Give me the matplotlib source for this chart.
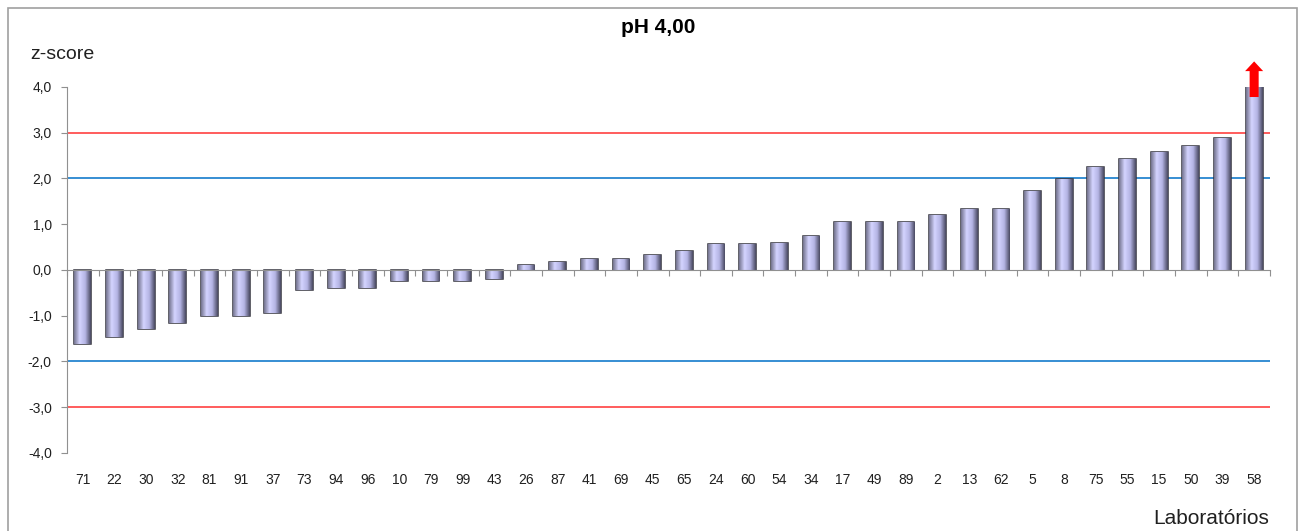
import numpy as np
import matplotlib
matplotlib.use('Agg')
import matplotlib.pyplot as plt
from matplotlib.colors import LinearSegmentedColormap
from matplotlib.patches import Rectangle

plt.rcParams['font.family'] = ['Liberation Sans', 'DejaVu Sans']

# 데이터
labs = ['71', '22', '30', '32', '81', '91', '37', '73', '94', '96', '10', '79', '99', '43',
        '26', '87', '41', '69', '45', '65', '24', '60', '54', '34', '17', '49', '89', '2',
        '13', '62', '5', '8', '75', '55', '15', '50', '39', '58']
zscores = [-1.62, -1.47, -1.30, -1.15, -1.00, -1.00, -0.93, -0.43, -0.40, -0.40, -0.23, -0.23,
           -0.23, -0.20, 0.10, 0.18, 0.25, 0.25, 0.33, 0.42, 0.57, 0.57, 0.60, 0.75, 1.05,
           1.05, 1.05, 1.20, 1.33, 1.33, 1.72, 1.98, 2.25, 2.42, 2.57, 2.72, 2.88, 4.00]
yticks = [-4, -3, -2, -1, 0, 1, 2, 3, 4]

fig = plt.figure(figsize=(13.02, 5.31), dpi=100)
ax = fig.add_axes([0.0515, 0.1469, 0.9239, 0.6893])

# 외곽 테두리
fig.patches.append(Rectangle((8 / 1302, -0.05), 1289 / 1302, 1.05 - 8 / 531, transform=fig.transFigure,
                             fill=False, edgecolor='#a0a0a0', linewidth=1.2))

x = np.arange(len(labs))
bars = ax.bar(x, zscores, width=0.53, color='#c8c8f0', edgecolor='#34343e', linewidth=1.1, zorder=3)

# 막대 그라데이션
cmap = LinearSegmentedColormap.from_list('bar', ['#74748f', '#d4d4ff', '#b4b4e4', '#4a4a62'])
grad = np.linspace(0, 1, 64).reshape(1, -1)
for b in bars:
    x0, y0 = b.get_x(), b.get_y()
    w, h = b.get_width(), b.get_height()
    im = ax.imshow(grad, cmap=cmap, aspect='auto', extent=(x0, x0 + w, y0, y0 + h), zorder=3)
    im.set_clip_path(b)

# 기준선
for v, c in [(3, '#ff3030'), (-3, '#ff3030'), (2, '#0070c8'), (-2, '#0070c8')]:
    ax.axhline(v, color=c, linewidth=1.1, zorder=2)

ax.set_xlim(-0.5, len(labs) - 0.5)
ax.set_ylim(-4, 4)
ax.set_yticks(yticks)
ax.set_yticklabels([f'{v:.1f}'.replace('.', ',') for v in yticks], fontsize=10, color='#202020')
ax.tick_params(axis='y', length=4, color='#909090', pad=7)

for s in ['top', 'right']:
    ax.spines[s].set_visible(False)
ax.spines['left'].set_color('#909090')
ax.spines['bottom'].set_position(('data', 0))
ax.spines['bottom'].set_color('#909090')
ax.spines['bottom'].set_zorder(4)
ax.set_xticks(np.arange(len(labs) + 1) - 0.5)
ax.set_xticklabels([])
ax.tick_params(axis='x', length=4, color='#909090', direction='out')

for xi, lab in zip(x, labs):
    ax.text(xi, -0.074, lab, transform=ax.get_xaxis_transform(), ha='center', va='center',
            fontsize=10, color='#202020')

# 화살표 (범위 초과)
ax.annotate('', xy=(x[-1], 4.62), xytext=(x[-1], 3.72), annotation_clip=False,
            arrowprops=dict(arrowstyle='simple,head_length=0.7,head_width=1.3,tail_width=0.65',
                            mutation_scale=10, color='#ff0000', lw=0), zorder=5)

fig.text(0.5055, 0.949, 'pH 4,00', ha='center', va='center', fontsize=15, fontweight='bold')
fig.text(0.023, 0.898, 'z-score', ha='left', va='center', fontsize=14, color='#202020')
fig.text(0.9747, 0.023, 'Laboratórios', ha='right', va='center', fontsize=15, color='#202020')

fig.savefig('out.png', dpi=100)
